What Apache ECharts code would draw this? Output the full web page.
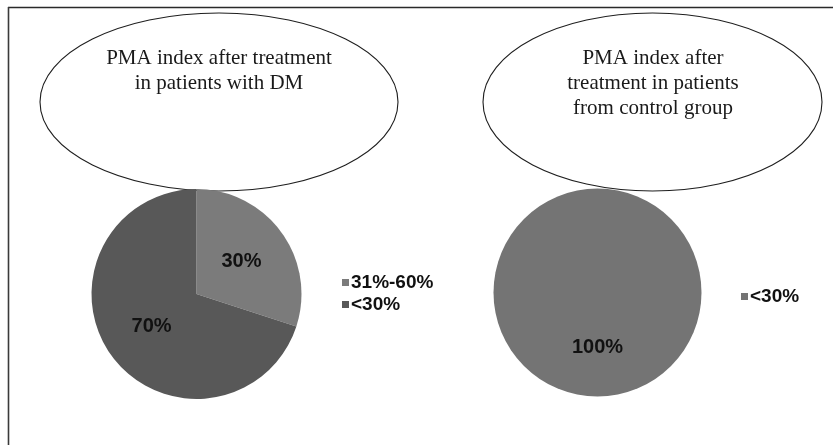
<!DOCTYPE html>
<html>
<head>
<meta charset="utf-8">
<style>
  html, body { margin: 0; padding: 0; background: #fff; }
  #chart { width: 833px; height: 445px; }
</style>
<script src="https://cdn.jsdelivr.net/npm/echarts@6/dist/echarts.min.js"></script>
</head>
<body>
<div id="chart"></div>
<script>
// Share of patients by PMA index after treatment
const dmCategories = ['31%-60%', '<30%'];
const dmValues = [30, 70];
const controlCategories = ['<30%'];
const controlValues = [100];

const dmTitle = 'PMA index after treatment\nin patients with DM';
const controlTitle = 'PMA index after\ntreatment in patients\nfrom control group';

const dmColors = ['#7b7b7b', '#585858'];
const controlColors = ['#747474'];

const chart = echarts.init(document.getElementById('chart'), null, { renderer: 'canvas' });

const labelStyle = {
  show: true,
  position: 'inside',
  formatter: '{c}%',
  fontFamily: 'Liberation Sans, Arial, sans-serif',
  fontWeight: 'bold',
  fontSize: 20,
  color: '#111'
};

const legendText = {
  fontFamily: 'Liberation Sans, Arial, sans-serif',
  fontWeight: 'bold',
  fontSize: 19,
  color: '#111',
  padding: [0, 0, 0, -3]
};

const titleStyle = {
  fontFamily: 'Liberation Serif, Times New Roman, serif',
  fontSize: 21,
  lineHeight: 25,
  fill: '#1a1a1a',
  align: 'center',
  verticalAlign: 'top'
};

chart.setOption({
  animation: false,
  backgroundColor: '#ffffff',
  legend: [
    {
      orient: 'vertical',
      left: 337,
      top: 268,
      itemWidth: 7,
      itemHeight: 7,
      itemGap: 3,
      icon: 'rect',
      selectedMode: false,
      textStyle: legendText,
      data: dmCategories.map((name, i) => ({ name, itemStyle: { color: dmColors[i] } }))
    },
    {
      orient: 'vertical',
      left: 736,
      top: 282,
      itemWidth: 7,
      itemHeight: 7,
      icon: 'rect',
      selectedMode: false,
      textStyle: legendText,
      data: controlCategories.map((name, i) => ({ name, itemStyle: { color: controlColors[i] } }))
    }
  ],
  graphic: [
    { type: 'line', shape: { x1: 8, y1: 7.5, x2: 833, y2: 7.5 }, style: { stroke: '#2a2a2a', lineWidth: 1.6 } },
    { type: 'line', shape: { x1: 8.5, y1: 7, x2: 8.5, y2: 445 }, style: { stroke: '#3a3a3a', lineWidth: 1.6 } },
    { type: 'ellipse', shape: { cx: 219, cy: 102, rx: 179, ry: 89 }, style: { fill: '#ffffff', stroke: '#1e1e1e', lineWidth: 1.1 } },
    { type: 'ellipse', shape: { cx: 652.5, cy: 102, rx: 169.5, ry: 89 }, style: { fill: '#ffffff', stroke: '#1e1e1e', lineWidth: 1.1 } },
    { type: 'text', x: 219, y: 45.5, style: Object.assign({ text: dmTitle }, titleStyle) },
    { type: 'text', x: 653, y: 45.5, style: Object.assign({ text: controlTitle }, titleStyle) }
  ],
  series: [
    {
      type: 'pie',
      center: [196.5, 294],
      radius: [0, 105],
      startAngle: 90,
      clockwise: true,
      silent: true,
      label: labelStyle,
      labelLine: { show: false },
      itemStyle: { borderWidth: 0 },
      data: dmCategories.map((name, i) => ({ name, value: dmValues[i], itemStyle: { color: dmColors[i] } }))
    },
    {
      type: 'pie',
      center: [597.5, 292.5],
      radius: [0, 104],
      startAngle: 90,
      clockwise: true,
      silent: true,
      label: labelStyle,
      labelLine: { show: false },
      itemStyle: { borderWidth: 0 },
      data: controlCategories.map((name, i) => ({ name, value: controlValues[i], itemStyle: { color: controlColors[i] } }))
    }
  ]
});
</script>
</body>
</html>
